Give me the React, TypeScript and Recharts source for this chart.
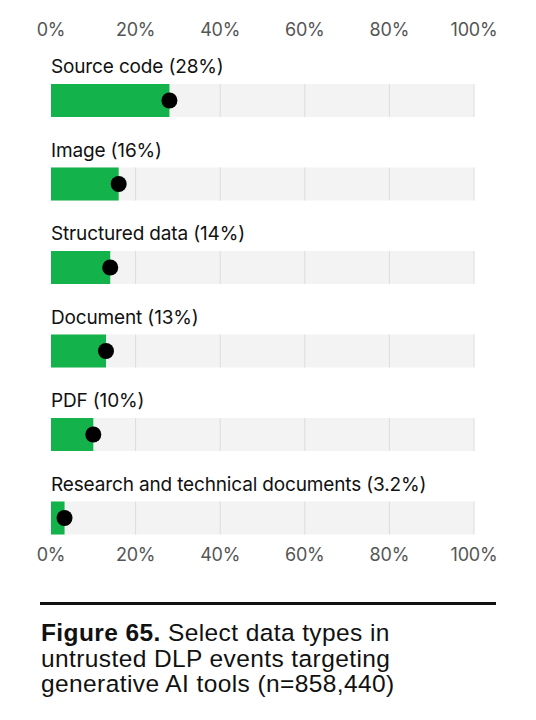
import React from 'react';
import { ComposedChart, Bar, Line, XAxis, YAxis, LabelList } from 'recharts';

const categories = [
  'Source code',
  'Image',
  'Structured data',
  'Document',
  'PDF',
  'Research and technical documents',
];
const values = [28, 16, 14, 13, 10, 3.2];
const valueLabels = ['28%', '16%', '14%', '13%', '10%', '3.2%'];
const ticks = [0, 20, 40, 60, 80, 100];
const captionBold = 'Figure 65.';
const captionLines = [
  ' Select data types in',
  'untrusted DLP events targeting',
  'generative AI tools (n=858,440)',
];

const data = categories.map((c, i) => ({
  name: c,
  value: values[i],
  label: `${c} (${valueLabels[i]})`,
}));

const GREEN = '#13b24a';
const TRACK = '#f3f3f3';
const GRID = '#dcdcdc';
const LABEL_FONT = 'Inter, "Noto Sans", sans-serif';

const makeTick = (dy: number) => (props: any) => {
  const { x, y, payload } = props;
  return (
    <text
      x={x}
      y={y}
      dy={dy}
      textAnchor="middle"
      fill="#555"
      fontSize={18}
      fontFamily={LABEL_FONT}
      letterSpacing={-0.2}
    >
      {payload.value}%
    </text>
  );
};

const Background = (props: any) => {
  const { x, y, width, height } = props;
  return (
    <g>
      <rect x={x} y={y} width={width} height={height} fill={TRACK} />
      {ticks.slice(1).map((t) => (
        <line
          key={t}
          x1={x + (width * t) / 100}
          x2={x + (width * t) / 100}
          y1={y}
          y2={y + height}
          stroke={GRID}
          strokeWidth={1}
        />
      ))}
    </g>
  );
};

const BarShape = (props: any) => {
  const { x, y, width, height } = props;
  return (
    <g>
      <rect x={x} y={y} width={width} height={height} fill={GREEN} />
      <circle cx={x + width} cy={y + height / 2} r={8} fill="#000" />
    </g>
  );
};

const CategoryLabel = (props: any) => {
  const { x, y, value } = props;
  return (
    <text
      x={x}
      y={y}
      dy={-11}
      fill="#111"
      fontSize={19}
      fontFamily={LABEL_FONT}
      letterSpacing={-0.15}
    >
      {value}
    </text>
  );
};

export default function App() {
  return (
    <div
      style={{
        position: 'absolute',
        left: 0,
        top: 0,
        width: 536,
        height: 720,
        background: '#fff',
      }}
    >
      <ComposedChart
        width={536}
        height={590}
        data={data}
        layout="vertical"
        margin={{ top: 29, right: 62, left: 51, bottom: 0 }}
        barCategoryGap={0}
      >
        <XAxis
          xAxisId="top"
          orientation="top"
          type="number"
          domain={[0, 100]}
          ticks={ticks}
          height={30}
          axisLine={false}
          tickLine={false}
          tickSize={0}
          tickMargin={0}
          tick={makeTick(-23)}
          interval={0}
        />
        <XAxis
          xAxisId="bottom"
          orientation="bottom"
          type="number"
          domain={[0, 100]}
          ticks={ticks}
          height={30}
          axisLine={false}
          tickLine={false}
          tickSize={0}
          tickMargin={0}
          tick={makeTick(1)}
          interval={0}
        />
        <YAxis type="category" dataKey="name" hide width={0} />
        <Bar
          xAxisId="top"
          dataKey="value"
          barSize={33}
          background={<Background />}
          shape={<BarShape />}
          isAnimationActive={false}
        >
          <LabelList dataKey="label" content={<CategoryLabel />} />
        </Bar>
        <Line
          xAxisId="bottom"
          dataKey="value"
          stroke="none"
          dot={false}
          activeDot={false}
          legendType="none"
          isAnimationActive={false}
        />
      </ComposedChart>
      <div
        style={{
          position: 'absolute',
          left: 40,
          top: 602,
          width: 456,
          height: 3,
          background: '#111',
        }}
      />
      <div
        style={{
          position: 'absolute',
          left: 41,
          top: 620,
          width: 460,
          fontFamily: '"Liberation Sans", Arial, sans-serif',
          fontSize: 24.5,
          lineHeight: '25.5px',
          letterSpacing: 0.4,
          color: '#111',
          whiteSpace: 'nowrap',
        }}
      >
        <b>{captionBold}</b>
        {captionLines[0]}
        <br />
        {captionLines[1]}
        <br />
        {captionLines[2]}
      </div>
    </div>
  );
}
